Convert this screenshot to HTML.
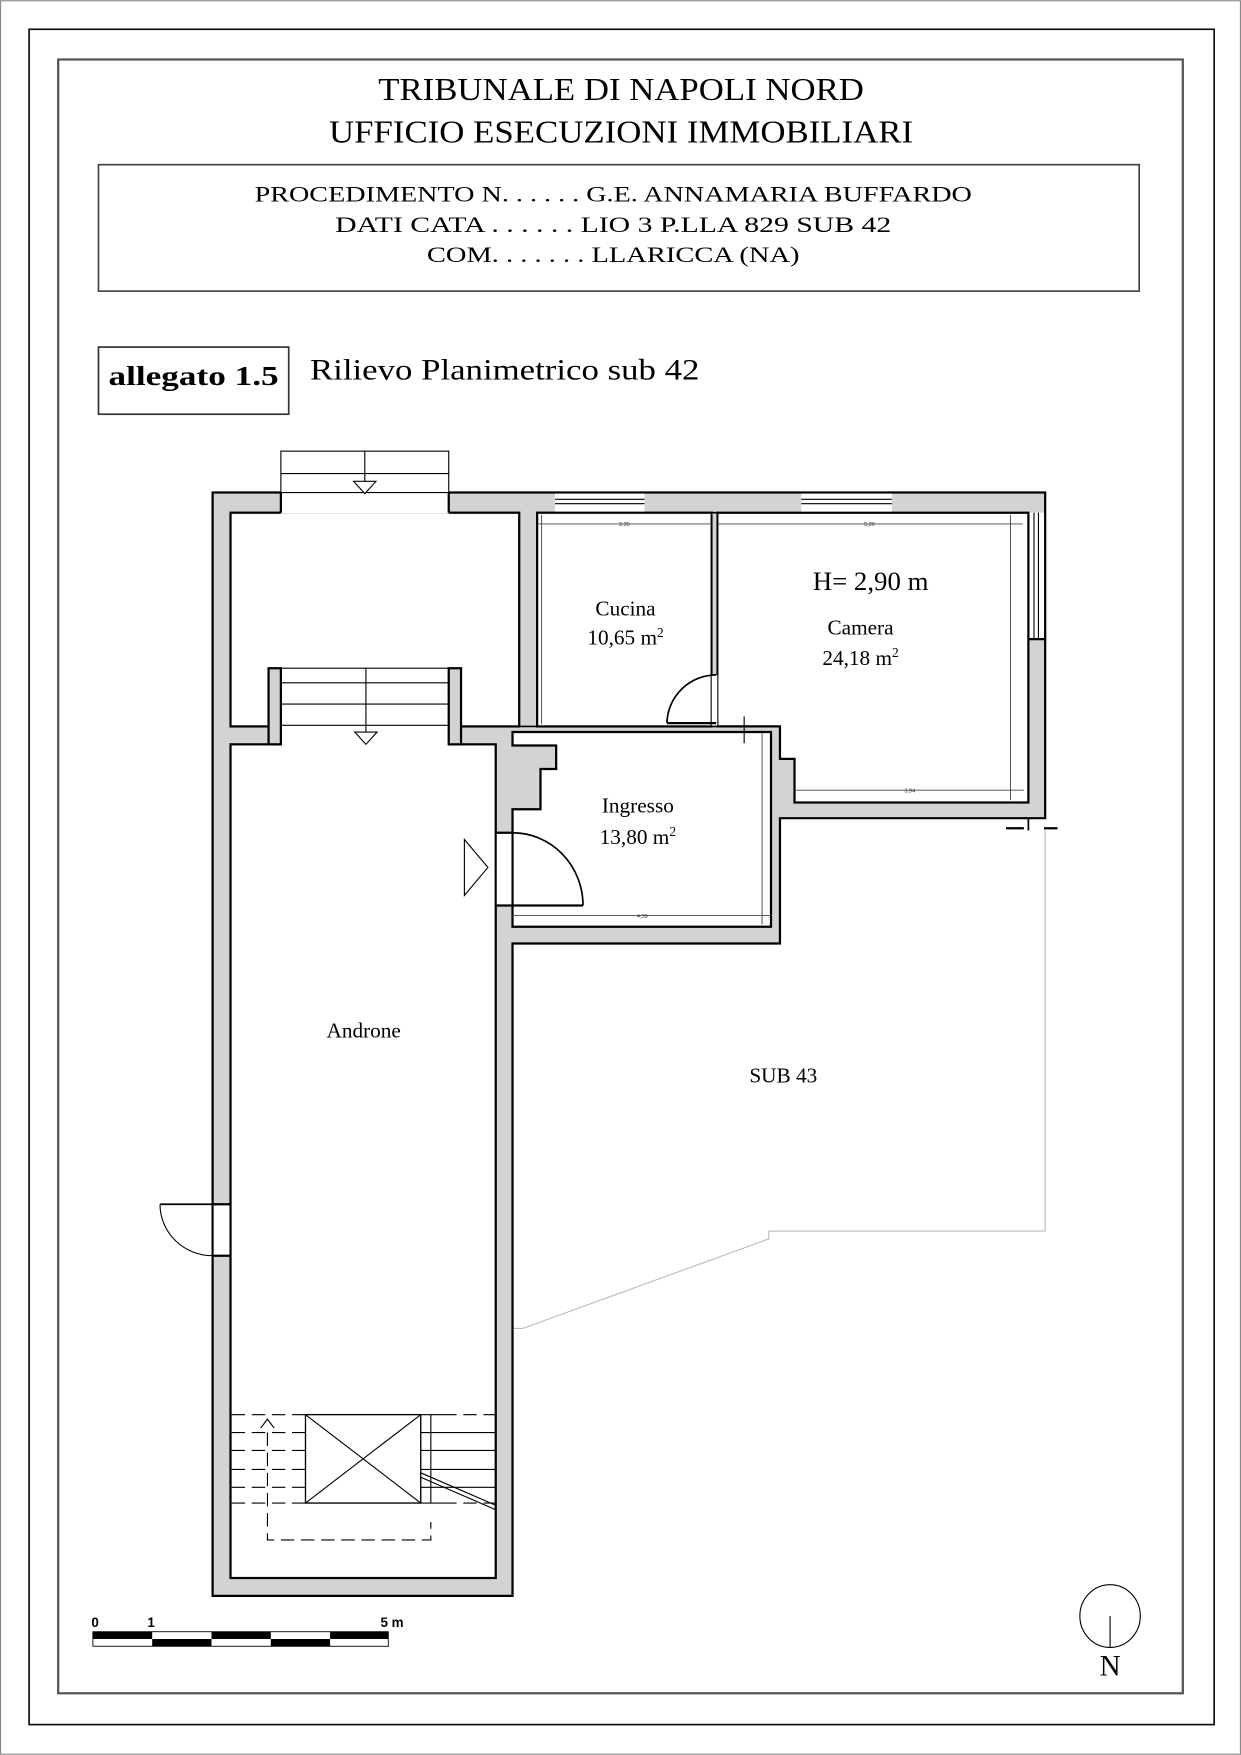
<!DOCTYPE html>
<html><head><meta charset="utf-8"><style>html,body{margin:0;padding:0;background:#fff}svg{display:block}</style></head><body>
<svg width="1241" height="1755" viewBox="0 0 1109 1568" xmlns="http://www.w3.org/2000/svg" font-family="'Liberation Serif', serif">
<rect x="0" y="0" width="1109" height="1568" fill="#fff"/>
<rect x="0.5" y="0.5" width="1108" height="1567" fill="none" stroke="#888" stroke-width="1"/>
<rect x="26" y="26" width="1059" height="1515" fill="none" stroke="#111" stroke-width="1.5"/>
<rect x="52" y="53" width="1005" height="1460" fill="none" stroke="#555" stroke-width="2"/>
<text x="555" y="89" font-size="28" text-anchor="middle" textLength="434" lengthAdjust="spacingAndGlyphs">TRIBUNALE DI NAPOLI NORD</text>
<text x="555" y="127" font-size="28" text-anchor="middle" textLength="522" lengthAdjust="spacingAndGlyphs">UFFICIO ESECUZIONI IMMOBILIARI</text>
<rect x="88" y="147" width="930" height="113" fill="none" stroke="#444" stroke-width="1.5"/>
<text x="548" y="180" font-size="20" text-anchor="middle" textLength="641" lengthAdjust="spacingAndGlyphs">PROCEDIMENTO N. . . . . . G.E. ANNAMARIA BUFFARDO</text>
<text x="548" y="207" font-size="20" text-anchor="middle" textLength="497" lengthAdjust="spacingAndGlyphs">DATI CATA . . . . . . LIO 3 P.LLA 829 SUB 42</text>
<text x="548" y="234" font-size="20" text-anchor="middle" textLength="333" lengthAdjust="spacingAndGlyphs">COM. . . . . . . LLARICCA (NA)</text>
<rect x="88" y="310" width="170" height="60" fill="none" stroke="#333" stroke-width="1.5"/>
<text x="173" y="344" font-size="25" font-weight="bold" text-anchor="middle" textLength="152" lengthAdjust="spacingAndGlyphs">allegato 1.5</text>
<text x="277" y="339" font-size="26" textLength="348" lengthAdjust="spacingAndGlyphs">Rilievo Planimetrico sub 42</text>

<polyline points="934,740 934,1100 687,1100 687,1107 467,1187 459,1187" fill="none" stroke="#bbb" stroke-width="1"/>

<polygon points="190,440 934,440 934,731 697,731 697,843 458,843 458,1426 190,1426" fill="#d3d3d3" stroke="#000" stroke-width="2"/>
<rect x="206" y="458" width="258" height="191" fill="#fff" stroke="#000" stroke-width="2"/>
<rect x="251" y="437" width="150" height="22" fill="#fff"/>
<line x1="251" y1="440" x2="251" y2="458" stroke="#000" stroke-width="2"/>
<line x1="401" y1="440" x2="401" y2="458" stroke="#000" stroke-width="2"/>
<rect x="251" y="403" width="150" height="37" fill="none" stroke="#000" stroke-width="1"/>
<line x1="251" y1="423" x2="401" y2="423" stroke="#000" stroke-width="1"/>
<line x1="326" y1="403" x2="326" y2="440" stroke="#000" stroke-width="1"/>
<polygon points="316,430 336,430 326,441" fill="#fff" stroke="#000" stroke-width="1"/>
<rect x="206" y="665" width="237" height="745" fill="#fff" stroke="#000" stroke-width="2"/>
<rect x="251" y="597" width="150" height="70" fill="#fff"/>
<rect x="240" y="597" width="11" height="68" fill="#d3d3d3" stroke="#000" stroke-width="2"/>
<rect x="401" y="597" width="11" height="68" fill="#d3d3d3" stroke="#000" stroke-width="2"/>
<line x1="251" y1="610" x2="401" y2="610" stroke="#000" stroke-width="1"/>
<line x1="251" y1="629" x2="401" y2="629" stroke="#000" stroke-width="1"/>
<line x1="251" y1="648" x2="401" y2="648" stroke="#000" stroke-width="1"/>
<line x1="251" y1="597" x2="401" y2="597" stroke="#000" stroke-width="1"/>
<line x1="327" y1="597" x2="327" y2="665" stroke="#000" stroke-width="1"/>
<polygon points="317,654 337,654 327,665" fill="#fff" stroke="#000" stroke-width="1"/>
<rect x="480" y="458" width="156" height="191" fill="#fff" stroke="#000" stroke-width="2"/>
<polygon points="641,458 919,458 919,717 710,717 710,678 697,678 697,649 641,649" fill="#fff" stroke="#000" stroke-width="2"/>
<rect x="636" y="458" width="5" height="145" fill="#d3d3d3" stroke="#000" stroke-width="1.5"/>
<rect x="636" y="603" width="5" height="46" fill="#fff"/>
<path d="M640,603 A44,44 0 0 0 596,646" fill="none" stroke="#000" stroke-width="1.5"/>
<line x1="596" y1="646" x2="640" y2="646" stroke="#000" stroke-width="2"/>
<polygon points="458,654 689,654 689,828 458,828 458,723 483,723 483,687 497,687 497,666 458,666" fill="#fff" stroke="#000" stroke-width="2"/>
<line x1="458" y1="649" x2="697" y2="649" stroke="#000" stroke-width="1.5"/>
<rect x="444" y="744" width="13" height="65" fill="#fff"/>
<line x1="443" y1="744" x2="458" y2="744" stroke="#000" stroke-width="2"/>
<line x1="443" y1="809" x2="458" y2="809" stroke="#000" stroke-width="2"/>
<path d="M458,744 A63,65 0 0 1 521,809" fill="none" stroke="#000" stroke-width="1.5"/>
<line x1="458" y1="809" x2="521" y2="809" stroke="#000" stroke-width="2"/>
<polygon points="415,750 436,775 415,800" fill="#fff" stroke="#000" stroke-width="1"/>
<rect x="496" y="441" width="80" height="16" fill="#fff"/>
<line x1="496" y1="446" x2="576" y2="446" stroke="#000" stroke-width="1"/>
<line x1="496" y1="450" x2="576" y2="450" stroke="#000" stroke-width="1"/>
<rect x="716" y="441" width="81" height="16" fill="#fff"/>
<line x1="716" y1="446" x2="797" y2="446" stroke="#000" stroke-width="1"/>
<line x1="716" y1="450" x2="797" y2="450" stroke="#000" stroke-width="1"/>
<rect x="920" y="458" width="13" height="113" fill="#fff"/>
<line x1="924" y1="458" x2="924" y2="571" stroke="#000" stroke-width="1"/>
<line x1="928" y1="458" x2="928" y2="571" stroke="#000" stroke-width="1"/>
<line x1="919" y1="571" x2="934" y2="571" stroke="#000" stroke-width="2"/>
<line x1="934" y1="440" x2="934" y2="571" stroke="#000" stroke-width="1.5"/>
<line x1="899" y1="740" x2="915" y2="740" stroke="#000" stroke-width="2"/>
<line x1="933" y1="740" x2="945" y2="740" stroke="#000" stroke-width="2"/>
<line x1="919" y1="731" x2="919" y2="742" stroke="#000" stroke-width="1.5"/>
<line x1="665" y1="640" x2="665" y2="664" stroke="#000" stroke-width="1"/>
<g stroke="#444" stroke-width="0.8" fill="none">
<line x1="480" y1="468" x2="636" y2="468"/><line x1="641" y1="468" x2="914" y2="468"/>
<line x1="484" y1="460" x2="484" y2="647"/><line x1="903" y1="460" x2="903" y2="715"/>
<line x1="710" y1="706" x2="915" y2="706"/><line x1="458" y1="818" x2="689" y2="818"/>
<line x1="681" y1="654" x2="681" y2="826"/>
</g>
<g font-family="'Liberation Sans', sans-serif" font-size="5" fill="#333" text-anchor="middle">
<text x="558" y="470">2,95</text><text x="777" y="470">5,26</text><text x="813" y="708">3,94</text><text x="574" y="820">4,39</text>
</g>
<rect x="191" y="1076" width="14" height="46" fill="#fff"/>
<line x1="190" y1="1076" x2="206" y2="1076" stroke="#000" stroke-width="2"/>
<line x1="190" y1="1122" x2="206" y2="1122" stroke="#000" stroke-width="2"/>
<line x1="143" y1="1076" x2="190" y2="1076" stroke="#000" stroke-width="1.5"/>
<path d="M143,1076 A47,46 0 0 0 190,1122" fill="none" stroke="#000" stroke-width="1"/>
<rect x="273" y="1264" width="103" height="79" fill="#fff" stroke="#000" stroke-width="1.2"/>
<line x1="273" y1="1264" x2="376" y2="1343" stroke="#000" stroke-width="1"/>
<line x1="376" y1="1264" x2="273" y2="1343" stroke="#000" stroke-width="1"/>
<g stroke="#000" stroke-width="1" stroke-dasharray="12,6">
<line x1="207" y1="1264" x2="273" y2="1264"/><line x1="207" y1="1280" x2="273" y2="1280"/><line x1="207" y1="1296" x2="273" y2="1296"/>
<line x1="207" y1="1313" x2="273" y2="1313"/><line x1="207" y1="1329" x2="273" y2="1329"/><line x1="207" y1="1343" x2="273" y2="1343"/>
<line x1="396" y1="1264" x2="443" y2="1264"/><line x1="396" y1="1343" x2="443" y2="1343"/>
<polyline points="239,1280 239,1376 385,1376 385,1360" fill="none"/>
</g>
<g stroke="#000" stroke-width="1">
<line x1="376" y1="1280" x2="443" y2="1280"/><line x1="376" y1="1296" x2="443" y2="1296"/><line x1="376" y1="1313" x2="443" y2="1313"/><line x1="376" y1="1329" x2="443" y2="1329"/>
<line x1="376" y1="1264" x2="396" y2="1264"/><line x1="376" y1="1343" x2="396" y2="1343"/>
<line x1="385" y1="1264" x2="385" y2="1343"/>
<line x1="376" y1="1316" x2="443" y2="1345"/><line x1="376" y1="1320" x2="443" y2="1349"/>
<polyline points="233,1276 239,1268 245,1276" fill="none"/>
</g>
<g font-size="19" text-anchor="middle" fill="#000">
<text x="559" y="550">Cucina</text>
<text x="559" y="576">10,65 m<tspan dy="-7" font-size="12">2</tspan></text>
<text x="778" y="527" font-size="24">H= 2,90 m</text>
<text x="769" y="567">Camera</text>
<text x="769" y="594">24,18 m<tspan dy="-7" font-size="12">2</tspan></text>
<text x="570" y="726">Ingresso</text>
<text x="570" y="754">13,80 m<tspan dy="-7" font-size="12">2</tspan></text>
<text x="325" y="927">Androne</text>
<text x="700" y="967">SUB 43</text>
</g>
<g font-family="'Liberation Sans', sans-serif" font-weight="bold" font-size="12">
<text x="85" y="1454" text-anchor="middle">0</text><text x="135" y="1454" text-anchor="middle">1</text><text x="340" y="1454">5 m</text>
</g>
<rect x="83" y="1458" width="264" height="13" fill="#fff" stroke="#000" stroke-width="0.8"/>
<g fill="#000">
<rect x="83" y="1458" width="53" height="6.5"/><rect x="189" y="1458" width="53" height="6.5"/><rect x="295" y="1458" width="52" height="6.5"/>
<rect x="136" y="1464.5" width="53" height="6.5"/><rect x="242" y="1464.5" width="53" height="6.5"/>
</g>
<ellipse cx="992" cy="1444" rx="27" ry="28" fill="none" stroke="#000" stroke-width="1"/>
<line x1="992" y1="1444" x2="992" y2="1472" stroke="#000" stroke-width="1"/>
<text x="992" y="1497" font-size="26" text-anchor="middle">N</text>
</svg>
</body></html>
